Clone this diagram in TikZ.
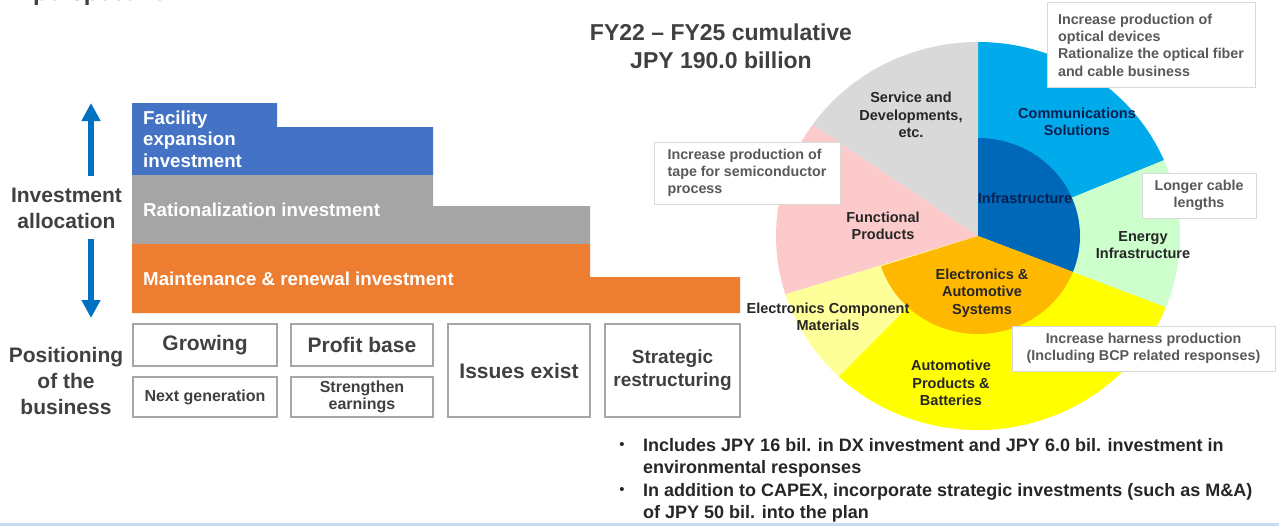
\documentclass[tikz,border=0pt]{standalone}
\usepackage{fontspec}
\setmainfont{Liberation Sans}
\usetikzlibrary{arrows.meta}
\definecolor{facilityblue}{HTML}{4472C4}
\definecolor{rationgray}{HTML}{A5A5A5}
\definecolor{maintorange}{HTML}{ED7D31}
\definecolor{allocblue}{HTML}{0070C0}
\definecolor{labelgray}{HTML}{404040}
\definecolor{boxgray}{HTML}{A6A6A6}
\definecolor{calloutline}{HTML}{D9D9D9}
\definecolor{callouttext}{HTML}{595959}
\definecolor{pietext}{HTML}{262626}
\definecolor{navytext}{HTML}{0A2050}
\definecolor{commsol}{HTML}{00AAEB}
\definecolor{infra}{HTML}{0068B8}
\definecolor{elecauto}{HTML}{FFB800}
\definecolor{energy}{HTML}{CCFFCC}
\definecolor{autoprod}{HTML}{FFFF00}
\definecolor{ecm}{HTML}{FFFF99}
\definecolor{funcprod}{HTML}{FCCACA}
\definecolor{servdev}{HTML}{D9D9D9}
\definecolor{sepblue}{HTML}{C5DCF0}

\begin{document}
\begin{tikzpicture}[x=1pt, y=-1pt,
	lbl/.style={text=labelgray, align=center, inner sep=0, font=\bfseries\fontsize{21}{26}\selectfont},
	bartext/.style={text=white, inner sep=0, align=left, font=\bfseries\fontsize{18.7}{21.5}\selectfont},
	posbox/.style={draw=boxgray, line width=1.2pt, inner sep=0, align=center, text=labelgray},
	callout/.style={draw=calloutline, line width=1pt, fill=white, inner sep=0, text=callouttext, font=\bfseries\fontsize{14.3}{17.3}\selectfont},
	pielbl/.style={align=center, inner sep=0, text=pietext, font=\bfseries\fontsize{14.5}{17.5}\selectfont},
	bultext/.style={anchor=north west, align=left, inner sep=0, text=pietext, font=\bfseries\fontsize{18}{22.7}\selectfont},
	bul/.style={inner sep=0, text=pietext, font=\fontsize{15}{15}\selectfont}]
	\useasboundingbox (0,0) rectangle (1279,527);

	% cut title
	\node[anchor=base west, inner sep=0, text=labelgray, font=\bfseries\fontsize{24}{28}\selectfont] (persp) at (33, 0.5) {perspective};

	% investment allocation
	\node[lbl] (alloc) at (66.5, 208) {Investment\\allocation};
	\coordinate (upfoot) at (91, 176);
	\coordinate (uptip) at (91, 103);
	\coordinate (downfoot) at (91, 239);
	\coordinate (downtip) at (91, 318);
	\draw[-{Triangle[width=18pt,length=18pt]}, line width=5.5pt, allocblue] (upfoot) -- (uptip);
	\draw[-{Triangle[width=18pt,length=18pt]}, line width=5.5pt, allocblue] (downfoot) -- (downtip);

	\fill[facilityblue] (132, 103) -| (277, 127) -| (433, 175) -- (132, 175) -- cycle;
	\fill[rationgray] (132, 175) -| (433, 206) -| (590, 244) -- (132, 244) -- cycle;
	\fill[maintorange] (132, 244) -| (590, 277) -| (740, 313) -- (132, 313) -- cycle;

	\node[bartext, anchor=north west] (facility) at (143, 110.5) {Facility\\expansion\\investment};
	\node[bartext, anchor=base west] (ration) at (143, 216) {Rationalization investment};
	\node[bartext, anchor=base west] (maint) at (143, 285) {Maintenance \& renewal investment};

	% positioning of the business
	\node[lbl] (posit) at (66, 381) {Positioning\\of the\\business};
	\node[posbox, minimum width=144pt, minimum height=42pt, font=\bfseries\fontsize{21}{25}\selectfont] (grow) at (205, 345) {Growing};
	\node[posbox, minimum width=144pt, minimum height=40pt, font=\bfseries\fontsize{16}{17}\selectfont] (nextgen) at (205, 397) {Next generation};
	\node[posbox, minimum width=142pt, minimum height=42pt, font=\bfseries\fontsize{21}{25}\selectfont] (profit) at (362, 345) {Profit base};
	\node[posbox, minimum width=142pt, minimum height=40pt, font=\bfseries\fontsize{16}{17}\selectfont] (strength) at (362, 397) {Strengthen\\earnings};
	\node[posbox, minimum width=142pt, minimum height=93pt, font=\bfseries\fontsize{21}{25}\selectfont] (issues) at (519, 370.5) {Issues exist};
	\node[posbox, minimum width=135pt, minimum height=93pt, font=\bfseries\fontsize{19}{23}\selectfont] (strat) at (672.5, 370.5) {Strategic\\restructuring};

	% pie
	\node[align=center, inner sep=0, text=labelgray, font=\bfseries\fontsize{23}{28}\selectfont] (title) at (721, 46) {FY22 -- FY25 cumulative\\JPY 190.0 billion};
	\coordinate (pc) at (978, 236);
	\fill[commsol] (pc) -- +(23:202pt and 194pt) arc[start angle=23, end angle=90, x radius=202pt, y radius=194pt] -- cycle;
	\fill[servdev] (pc) -- +(90:202pt and 194pt) arc[start angle=90, end angle=145, x radius=202pt, y radius=194pt] -- cycle;
	\fill[funcprod] (pc) -- +(145:202pt and 194pt) arc[start angle=145, end angle=197.5, x radius=202pt, y radius=194pt] -- cycle;
	\fill[ecm] (pc) -- +(197.5:202pt and 194pt) arc[start angle=197.5, end angle=226.5, x radius=202pt, y radius=194pt] -- cycle;
	\fill[autoprod] (pc) -- +(226.5:202pt and 194pt) arc[start angle=226.5, end angle=338.5, x radius=202pt, y radius=194pt] -- cycle;
	\fill[energy] (pc) -- +(-21.5:202pt and 194pt) arc[start angle=-21.5, end angle=23, x radius=202pt, y radius=194pt] -- cycle;
	\fill[infra] (pc) -- +(-21.5:102pt and 98pt) arc[start angle=-21.5, end angle=90, x radius=102pt, y radius=98pt] -- cycle;
	\fill[elecauto] (pc) -- +(198:102pt and 98pt) arc[start angle=198, end angle=338.5, x radius=102pt, y radius=98pt] -- cycle;

	\node[pielbl] (servlbl) at (911, 115) {Service and\\Developments,\\etc.};
	\node[pielbl, text=navytext] (commlbl) at (1077, 122) {Communications\\Solutions};
	\node[pielbl, text=navytext] (infralbl) at (1025, 198) {Infrastructure};
	\node[pielbl] (funclbl) at (883, 226) {Functional\\Products};
	\node[pielbl] (energylbl) at (1143, 245) {Energy\\Infrastructure};
	\node[pielbl] (elecautolbl) at (982, 293) {Electronics \&\\Automotive\\Systems};
	\node[pielbl] (ecmlbl) at (828, 317) {Electronics Component\\Materials};
	\node[pielbl] (autolbl) at (951, 383) {Automotive\\Products \&\\Batteries};

	% callouts
	\node[callout, align=left, minimum width=208pt, minimum height=84pt] (optcall) at (1151, 45) {Increase production of\\optical devices\\Rationalize the optical fiber\\and cable business};
	\node[callout, align=left, minimum width=186pt, minimum height=62pt] (tapecall) at (747, 173) {Increase production of\\tape for semiconductor\\process};
	\node[callout, align=center, minimum width=114pt, minimum height=45pt] (cablecall) at (1199, 195.5) {Longer cable\\lengths};
	\node[callout, align=center, minimum width=263pt, minimum height=45pt] (harnesscall) at (1143.5, 348.5) {Increase harness production\\(Including BCP related responses)};

	% notes
	\node[bul] (dot1) at (622, 446) {•};
	\node[bultext] (note1) at (643, 438) {Includes JPY 16 bil. in DX investment and JPY 6.0 bil. investment in\\environmental responses};
	\node[bul] (dot2) at (622, 491) {•};
	\node[bultext] (note2) at (643, 483) {In addition to CAPEX, incorporate strategic investments (such as M\&A)\\of JPY 50 bil. into the plan};

	\draw[sepblue, line width=2.5pt] (0, 524.5) -- (1279, 524.5);
\end{tikzpicture}
\end{document}
